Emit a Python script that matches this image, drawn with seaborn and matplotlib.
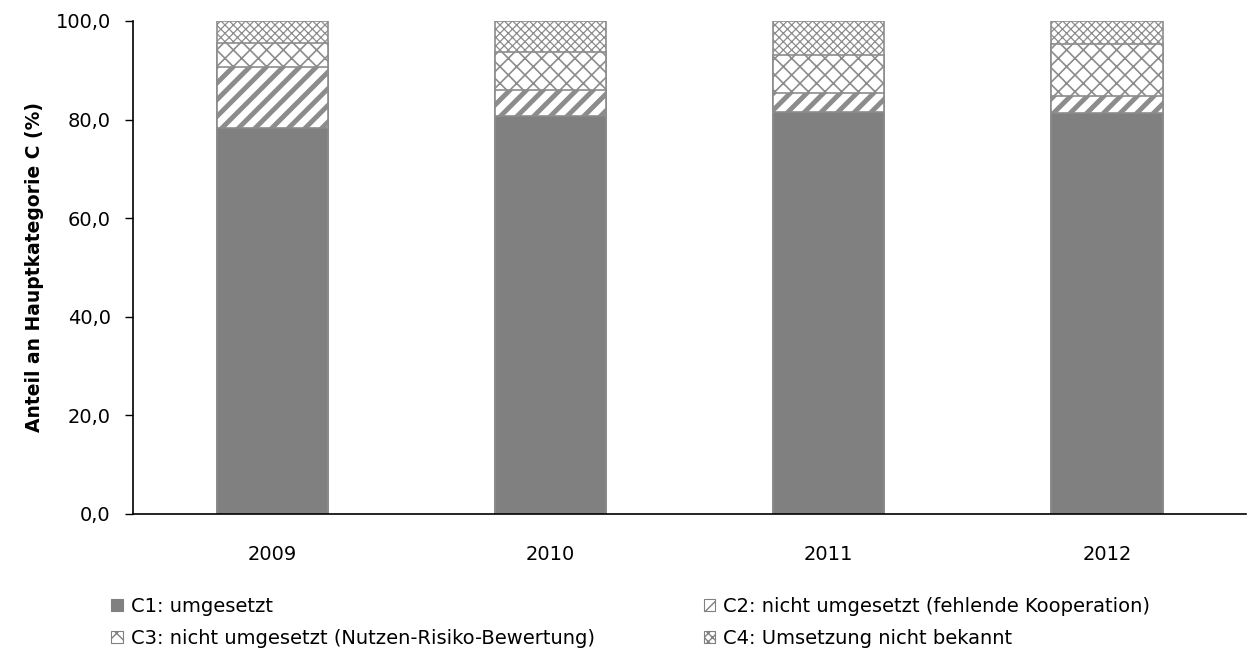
import matplotlib
matplotlib.use("Agg")
import matplotlib.pyplot as plt
import seaborn as sns
import pandas as pd
import numpy as np
from matplotlib.patches import Patch
from matplotlib.ticker import FuncFormatter

# %% data (Anteil in %)
years = ["2009", "2010", "2011", "2012"]
c1 = [78.3, 80.7, 81.6, 81.3]
c2 = [12.4, 5.4, 3.7, 3.5]
c3 = [4.8, 7.7, 7.9, 10.5]
c4 = [4.5, 6.2, 6.8, 4.7]
labels = [
    "C1: umgesetzt",
    "C2: nicht umgesetzt (fehlende Kooperation)",
    "C3: nicht umgesetzt (Nutzen-Risiko-Bewertung)",
    "C4: Umsetzung nicht bekannt",
]

df = pd.DataFrame({"year": years, "C1": c1, "C2": c2, "C3": c3, "C4": c4})
# cumulative heights, drawn from top to bottom so lower segments overlay
cum = df[["C1", "C2", "C3", "C4"]].cumsum(axis=1)
cum["year"] = df["year"]

sns.set_theme(style="white")
plt.rcParams["font.family"] = ["DejaVu Sans"]
plt.rcParams.update({"text.color": "black", "axes.labelcolor": "black",
                     "xtick.color": "black", "ytick.color": "black"})

grey = "#808080"
edge = "#8c8c8c"
styles = {
    "C1": dict(color=grey, hatch=None, lw_h=1.0),
    "C2": dict(color="white", hatch="//", lw_h=3.5),
    "C3": dict(color="white", hatch="xx", lw_h=1.2),
    "C4": dict(color="white", hatch="xxxx", lw_h=0.9),
}

fig = plt.figure(figsize=(12.48, 6.62), dpi=100)
ax = fig.add_axes([0.1066, 0.2236, 0.8918, 0.7447])

for key in ["C4", "C3", "C2", "C1"]:
    st = styles[key]
    with plt.rc_context({"hatch.linewidth": st["lw_h"], "hatch.color": grey}):
        sns.barplot(data=cum, x="year", y=key, color=st["color"], width=0.4,
                    saturation=1, edgecolor=edge, linewidth=1.2, ax=ax)
        for p in ax.patches[-len(years):]:
            p.set_facecolor(st["color"])
            if st["hatch"]:
                p.set_hatch(st["hatch"])
                if hasattr(p, "set_hatch_linewidth"):
                    p.set_hatch_linewidth(st["lw_h"])
                if hasattr(p, "set_hatchcolor"):
                    p.set_hatchcolor(grey)

ax.set_xlim(-0.5, 3.5)
ax.set_ylim(0, 100)
ax.set_yticks(np.arange(0, 101, 20))
ax.yaxis.set_major_formatter(FuncFormatter(lambda v, _: f"{v:.1f}".replace(".", ",")))
ax.set_xlabel("")
ax.set_ylabel("Anteil an Hauptkategorie C (%)", fontsize=13.5, fontweight="bold", labelpad=8.5)
ax.tick_params(axis="y", which="major", left=True, length=6, width=1, color="black",
               labelsize=14, pad=10)
ax.tick_params(axis="x", bottom=False, labelsize=14, pad=16)
for s in ["top", "right"]:
    ax.spines[s].set_visible(False)
for s in ["left", "bottom"]:
    ax.spines[s].set_color("black")
    ax.spines[s].set_linewidth(1.2)

# legend handles in C1..C4 order, then arranged row-wise for ncol=2
handles = []
for key in ["C1", "C2", "C3", "C4"]:
    st = styles[key]
    handles.append(Patch(facecolor=st["color"], edgecolor=grey, hatch=st["hatch"], linewidth=0.8))
order = [0, 2, 1, 3]
with plt.rc_context({"hatch.linewidth": 1.0}):
    fig.legend([handles[i] for i in order], [labels[i] for i in order],
               loc="upper left", bbox_to_anchor=(0.083, 0.110), ncol=2, frameon=False,
               fontsize=14, handlelength=0.6, handleheight=0.6, handletextpad=0.4,
               columnspacing=5.6, labelspacing=0.68, borderaxespad=0)

fig.savefig("out.png", dpi=100)
